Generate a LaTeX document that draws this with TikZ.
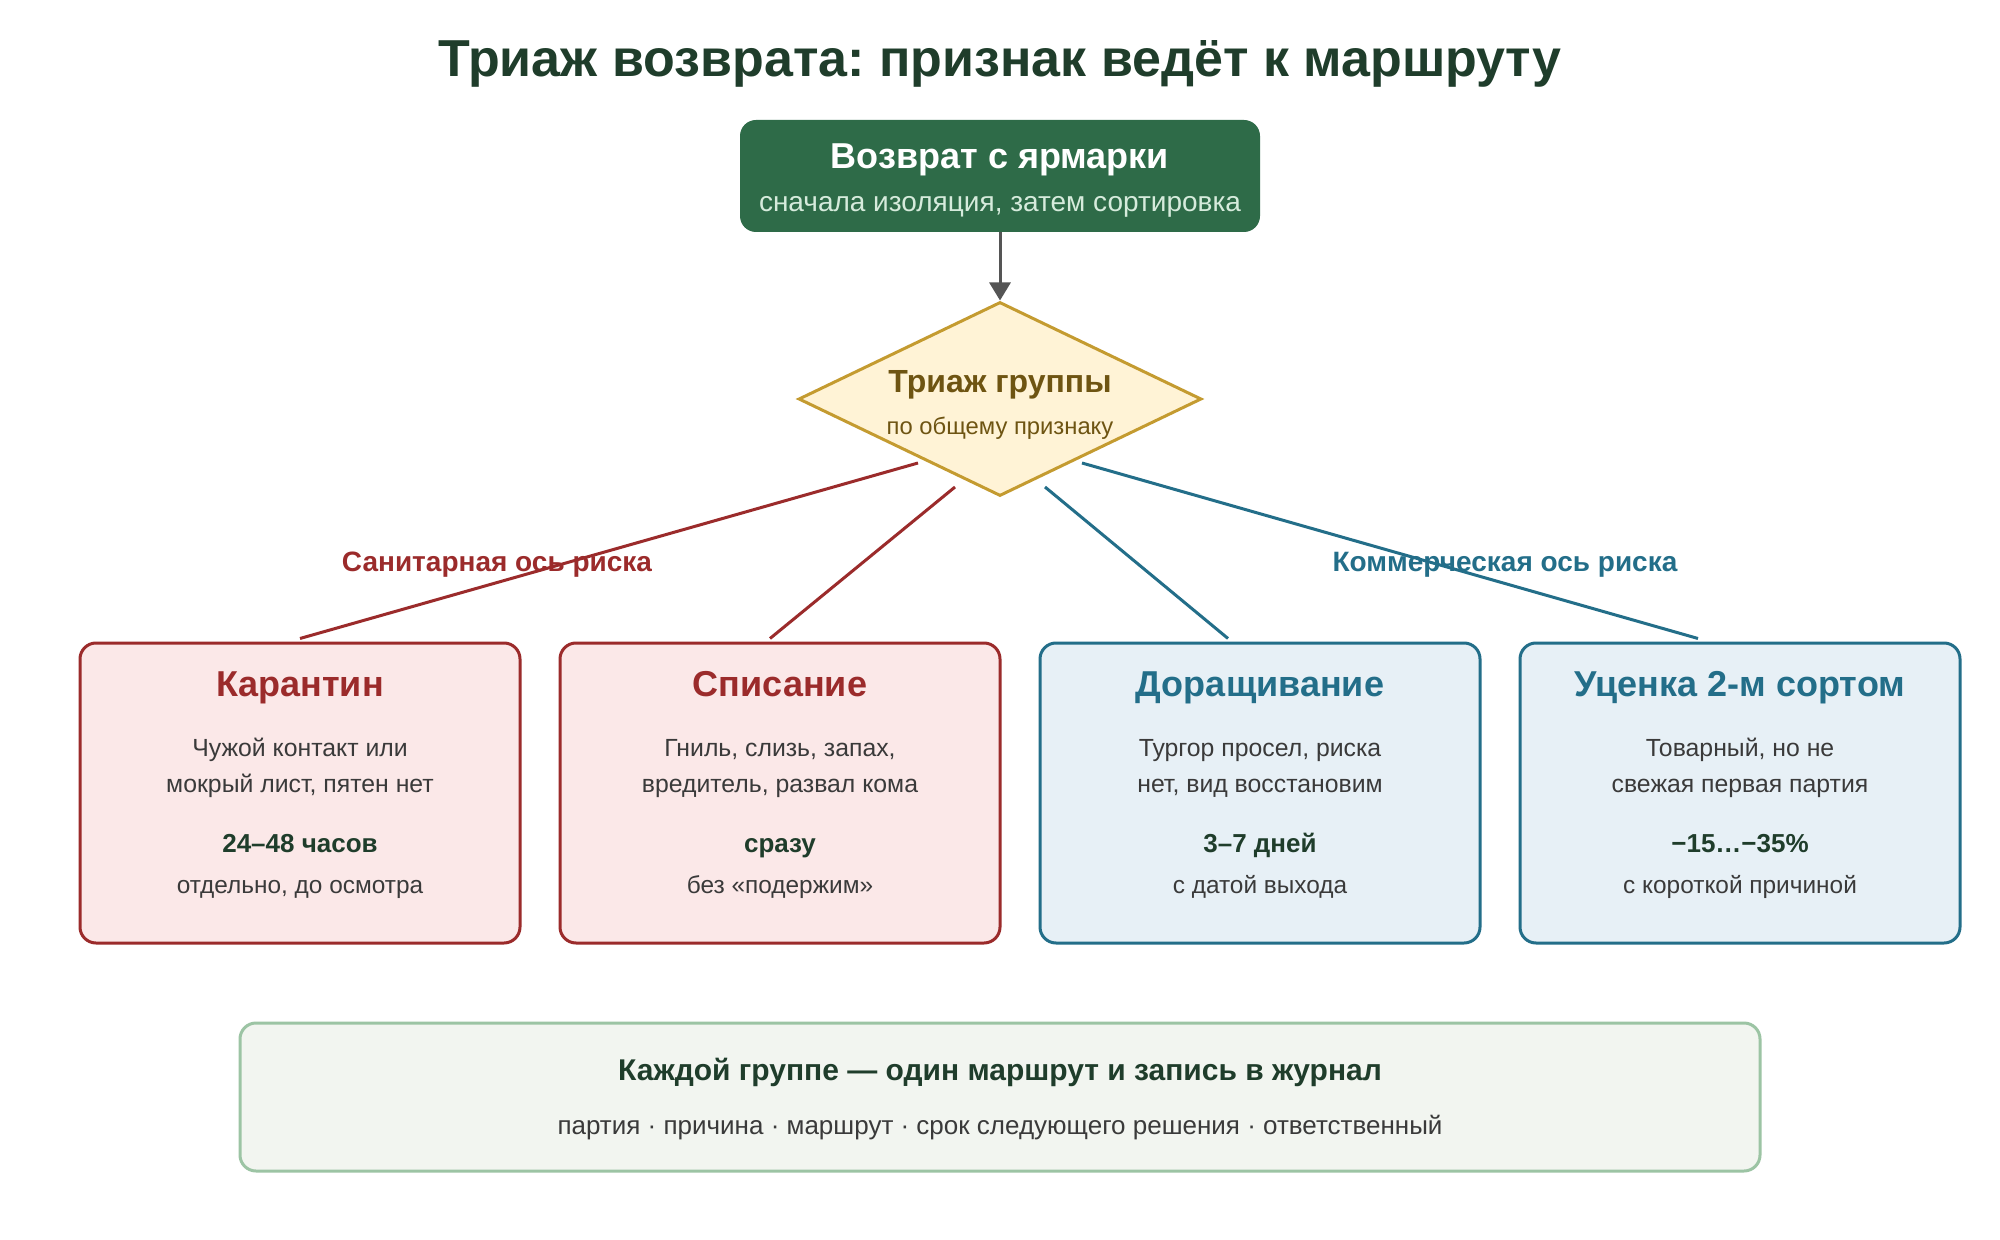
\documentclass[tikz,border=0pt]{standalone}
\usepackage{fontspec}
\setmainfont{Liberation Sans}
\frenchspacing
\usetikzlibrary{shapes.geometric,arrows.meta,calc}
\definecolor{titlegreen}{HTML}{1F3D2B}
\definecolor{topfill}{HTML}{2E6B48}
\definecolor{topsub}{HTML}{D6EBDC}
\definecolor{diafill}{HTML}{FFF3D6}
\definecolor{diadraw}{HTML}{C49B30}
\definecolor{diatext}{HTML}{6E5412}
\definecolor{redline}{HTML}{9B2B2B}
\definecolor{redfill}{HTML}{FBE8E8}
\definecolor{blueline}{HTML}{236E89}
\definecolor{bluefill}{HTML}{E7F0F6}
\definecolor{bodytext}{HTML}{3A3A3A}
\definecolor{notefill}{HTML}{F2F5F0}
\definecolor{notedraw}{HTML}{9CC4A4}
\definecolor{arrowgray}{HTML}{555555}
\newcommand\fs[1]{\fontsize{#1pt}{#1pt}\selectfont}
\newcommand\routecard[8]{%
  \node[card, draw=#3line, fill=#3fill] (#1) at (#2,793) {};
  \node[txt, text=#3line, font=\fs{18}\bfseries] (#1t) at ($(#1.north)+(0,44)$) {#4};
  \node[txt, text=bodytext, font=\fs{12.4}] (#1a) at ($(#1.north)+(0,104)$) {#5};
  \node[txt, text=bodytext, font=\fs{12.4}] (#1b) at ($(#1.north)+(0,140)$) {#6};
  \node[txt, text=titlegreen, font=\fs{13}\bfseries] (#1v) at ($(#1.north)+(0,200)$) {#7};
  \node[txt, text=bodytext, font=\fs{12.2}] (#1n) at ($(#1.north)+(0,241)$) {#8};
}
\begin{document}
\begin{tikzpicture}[x=0.5pt,y=-0.5pt,
  txt/.style={inner sep=0pt, text height=1.1em, text depth=0pt, anchor=center},
  card/.style={rectangle, rounded corners=8pt, line width=1.5pt, minimum width=220pt, minimum height=150pt, inner sep=0pt},
  branch/.style={line width=1.5pt},
  axis/.style={txt, font=\fs{14}\bfseries}
]
\useasboundingbox[fill=white] (0,0) rectangle (2000,1240);

% title
\node[txt, text=titlegreen, font=\fs{26}\bfseries] (title) at (1000,66) {Триаж возврата: признак ведёт к маршруту};

% top box
\node[rectangle, rounded corners=8pt, fill=topfill, minimum width=260pt, minimum height=56pt, inner sep=0pt] (top) at (1000,176) {};
\node[txt, text=white, font=\fs{18}\bfseries] (topt) at (1000,158) {Возврат с ярмарки};
\node[txt, text=topsub, font=\fs{14}] (tops) at (1000,201) {сначала изоляция, затем сортировка};

% diamond
\node[diamond, draw=diadraw, fill=diafill, line width=1.5pt, minimum width=201.5pt, minimum height=97pt, inner sep=0pt] (tri) at (1000,399) {};
\node[txt, text=diatext, font=\fs{16}\bfseries] (trit) at (1000,382) {Триаж группы};
\node[txt, text=diatext, font=\fs{11.9}] (tris) at (1000,424) {по общему признаку};

\draw[arrowgray, line width=1.5pt, -{Triangle[length=9pt,width=10.5pt]}] (top.south) -- (tri.north);

% cards
\routecard{b1}{300}{red}{Карантин}{Чужой контакт или}{мокрый лист, пятен нет}{24–48 часов}{отдельно, до осмотра}
\routecard{b2}{780}{red}{Списание}{Гниль, слизь, запах,}{вредитель, развал кома}{сразу}{без «подержим»}
\routecard{b3}{1260}{blue}{Доращивание}{Тургор просел, риска}{нет, вид восстановим}{3–7 дней}{с датой выхода}
\routecard{b4}{1740}{blue}{Уценка 2-м сортом}{Товарный, но не}{свежая первая партия}{−15…−35\%}{с короткой причиной}

% branches
\coordinate (s1) at ($(tri.center)+(-82,64)$);
\coordinate (s2) at ($(tri.center)+(-45,88)$);
\coordinate (s3) at ($(tri.center)+(45,88)$);
\coordinate (s4) at ($(tri.center)+(82,64)$);
\draw[branch, redline] (s1) -- ($(b1.north)+(0,-3)$);
\draw[branch, redline] (s2) -- ($(b2.north)+(-10,-3)$);
\draw[branch, blueline] (s3) -- ($(b3.north)+(-32,-3)$);
\draw[branch, blueline] (s4) -- ($(b4.north)+(-42,-3)$);

\node[axis, text=redline] (axl) at (497,560) {Санитарная ось риска};
\node[axis, text=blueline] (axr) at (1505,560) {Коммерческая ось риска};

% bottom note
\node[rectangle, rounded corners=8pt, draw=notedraw, fill=notefill, line width=1.5pt, minimum width=760pt, minimum height=74pt, inner sep=0pt] (note) at (1000,1097) {};
\node[txt, text=titlegreen, font=\fs{15}\bfseries] (notet) at (1000,1069) {Каждой группе — один маршрут и запись в журнал};
\node[txt, text=bodytext, font=\fs{13}] (notes) at (1000,1123) {партия · причина · маршрут · срок следующего решения · ответственный};
\end{tikzpicture}
\end{document}
